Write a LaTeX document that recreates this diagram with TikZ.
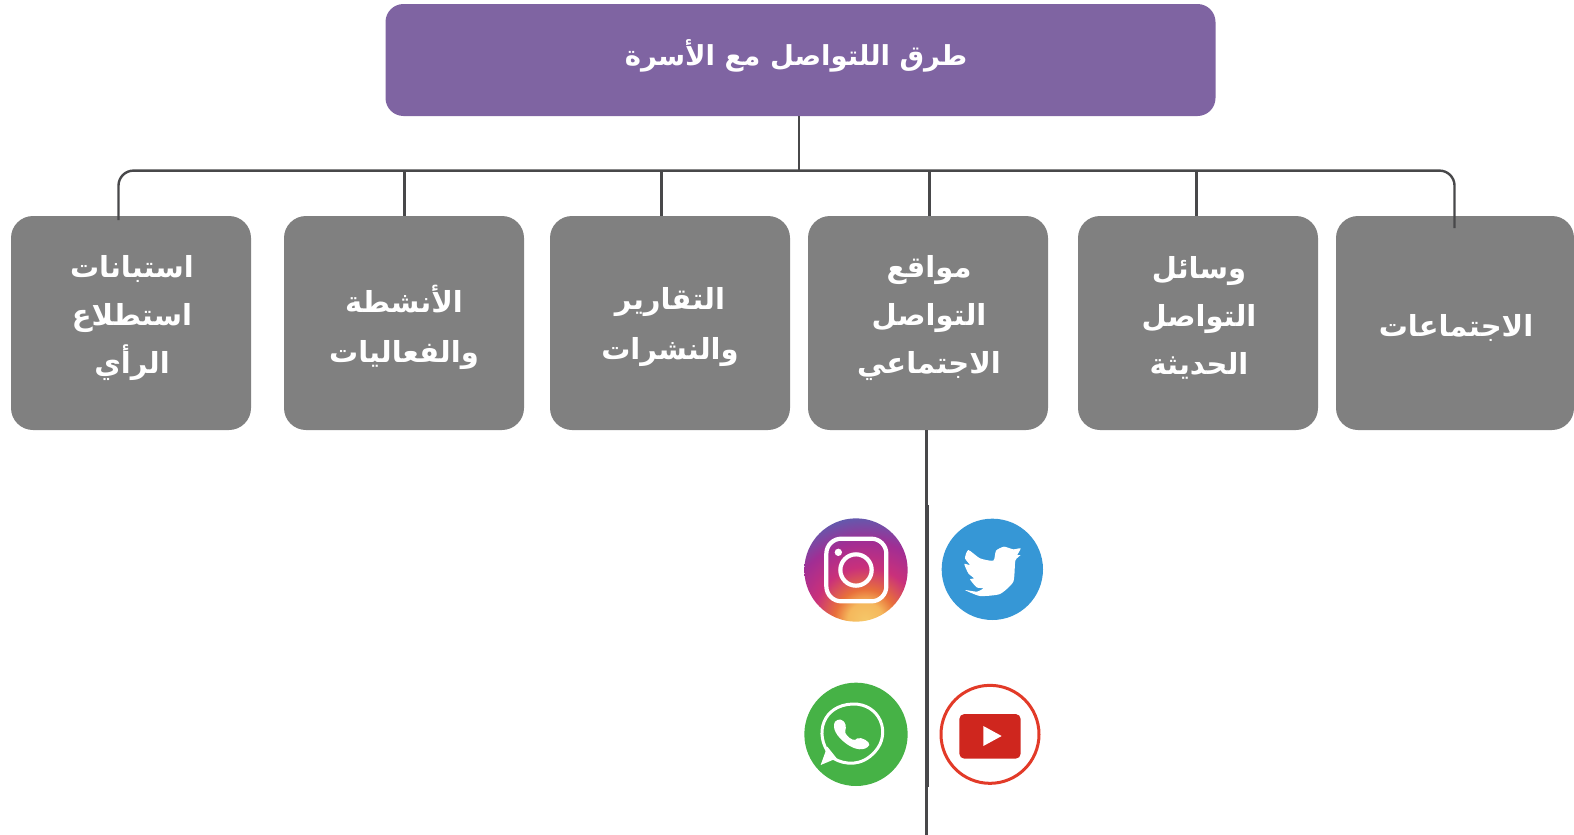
\documentclass[tikz,border=0pt]{standalone}
\usepackage{fontspec}
\TeXXeTstate=1
\newfontfamily\arabicfont[Script=Arabic]{DejaVu Sans}
\definecolor{headc}{HTML}{7F64A2}
\definecolor{boxc}{HTML}{808080}
\definecolor{linec}{HTML}{48484A}
\pgfdeclareradialshading{instagrad}{\pgfpoint{0bp}{0bp}}{%
 rgb(0bp)=(0.96,0.78,0.41); rgb(4bp)=(0.96,0.72,0.36); rgb(7bp)=(0.91,0.44,0.23);
 rgb(12bp)=(0.79,0.19,0.48); rgb(18bp)=(0.63,0.18,0.58); rgb(24bp)=(0.36,0.37,0.69); rgb(28bp)=(0.30,0.40,0.72); rgb(50bp)=(0.30,0.40,0.72)}
\tikzset{
 x=1pt,y=-1pt,
 box/.style={fill=boxc,rounded corners=22pt,inner sep=0pt,minimum height=214pt,minimum width=240pt},
 head/.style={fill=headc,rounded corners=18pt,inner sep=0pt,minimum height=112pt,minimum width=830pt},
 lbl/.style={text=white,align=center,inner sep=0pt,font=\arabicfont\bfseries\fontsize{29}{48}\selectfont},
 headlbl/.style={text=white,align=center,inner sep=0pt,font=\arabicfont\bfseries\fontsize{27.5}{34}\selectfont},
 conn/.style={draw=linec,line width=2.4pt},
 zoomed/.style={x=0.33333pt,y=-0.33333pt,shift={(780pt,-490pt)}},
}
\newcommand{\ar}[1]{\beginR #1\endR}
\begin{document}
\begin{tikzpicture}
\useasboundingbox (0,0) rectangle (1574,835);
\node[head] (top) at (800.5,60) {};
\node[box] (b1) at (131,323) {};
\node[box] (b2) at (404,323) {};
\node[box] (b3) at (670,323) {};
\node[box] (b4) at (928,323) {};
\node[box] (b5) at (1198,323) {};
\node[box,minimum width=238pt] (b6) at (1455,323) {};
\node[headlbl] (t0) at (796,56) {\ar{طرق اللتواصل مع الأسرة}};
\node[lbl] (t1) at (132,318) {\ar{استبانات}\\\ar{استطلاع}\\\ar{الرأي}};
\node[lbl] (t2) at (404,327) {\ar{الأنشطة}\\[2pt]\ar{والفعاليات}};
\node[lbl] (t3) at (670,327) {\ar{التقارير}\\[2pt]\ar{والنشرات}};
\node[lbl] (t4) at (929,318) {\ar{مواقع}\\\ar{التواصل}\\\ar{الاجتماعي}};
\node[lbl] (t5) at (1199,318) {\ar{وسائل}\\\ar{التواصل}\\\ar{الحديثة}};
\node[lbl] (t6) at (1456,328) {\ar{الاجتماعات}};
\coordinate (trunk) at (799,170.6);
\coordinate (lend) at (118.5,220);
\coordinate (rend) at (1454.5,228);
\coordinate (d2) at (404.5,170.6);
\coordinate (d3) at (661.5,170.6);
\coordinate (d4) at (929.5,170.6);
\coordinate (d5) at (1196.5,170.6);
\coordinate (lowend) at (926.6,835);
\coordinate (ovtop) at (927.6,505);
\coordinate (ovbot) at (927.6,787);
\draw[conn] (top.south -| trunk) -- (trunk);
\draw[conn,rounded corners=15pt] (lend) -- (lend |- trunk) -- (rend |- trunk) -- (rend);
\draw[conn] (d2) -- (d2 |- b2.north);
\draw[conn] (d3) -- (d3 |- b3.north);
\draw[conn] (d4) -- (d4 |- b4.north);
\draw[conn] (d5) -- (d5 |- b5.north);
\draw[conn] (lowend |- b4.south) -- (lowend);
\draw[conn] (ovtop) -- (ovbot);
% Instagram
\begin{scope}[zoomed]
 \begin{scope}
  \clip (228,240) circle (155);
  \path[shading=instagrad] (256,390) circle (330);
 \end{scope}
 \draw[white,line width=4.2pt,rounded corners=15pt] (139,146) rectangle (319,334);
 \draw[white,line width=4.2pt] (228,240) circle (47);
 \fill[white] (175,187) circle (11);
\end{scope}
% Twitter
\begin{scope}[zoomed]
 \fill[fill={rgb,255:red,54;green,151;blue,214}] (637,238) circle (152);
 \fill[white] plot[smooth cycle,tension=0.35] coordinates {(722,175) (700,178) (672,170) (648,182) (640,212) (600,205) (565,180) (555,205) (570,225) (553,222) (565,250) (582,265) (570,268) (590,292) (610,295) (590,305) (555,300) (600,318) (660,312) (700,275) (706,212) (722,195) (712,195)};
\end{scope}
% WhatsApp
\begin{scope}[zoomed]
 \fill[fill={rgb,255:red,70;green,178;blue,70}] (228,733) circle (155);
 \draw[white,line width=3pt] (150,795) .. controls (100,730) and (130,645) .. (218,642) .. controls (300,640) and (335,730) .. (285,785) .. controls (245,830) and (195,825) .. (160,805);
 \fill[white] (122,825) -- (142,770) -- (170,805) -- cycle;
 \fill[white] (165,695) .. controls (175,685) and (190,685) .. (197,705) .. controls (200,720) and (190,725) .. (200,735) .. controls (210,748) and (225,755) .. (232,745) .. controls (245,740) and (270,755) .. (268,765) .. controls (255,785) and (225,780) .. (200,762) .. controls (170,740) and (155,715) .. (165,695) -- cycle;
\end{scope}
% YouTube
\begin{scope}[zoomed]
 \draw[draw={rgb,255:red,226;green,58;blue,40},line width=3pt] (630,733) circle (147);
 \fill[fill={rgb,255:red,207;green,38;blue,30},rounded corners=5pt] (538,672) rectangle (722,806);
 \fill[white] (610,708) -- (665,738) -- (610,768) -- cycle;
\end{scope}
\end{tikzpicture}
\end{document}
